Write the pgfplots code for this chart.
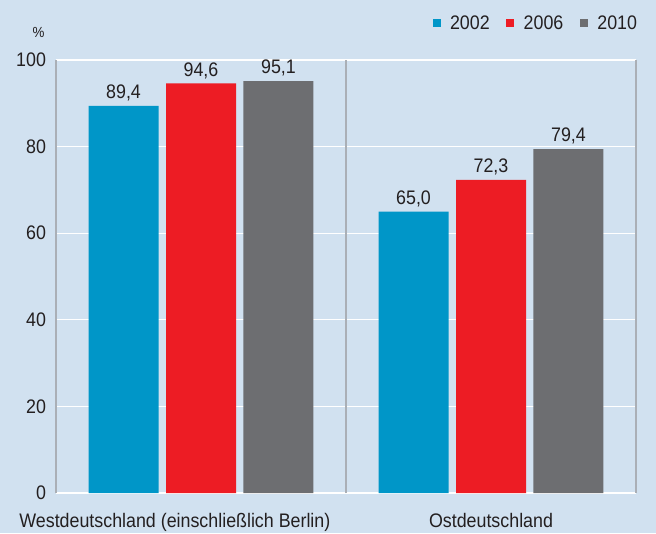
\documentclass[border=0pt]{standalone}
\usepackage{fontspec}
\setmainfont{Liberation Sans}[FakeStretch=0.91]
\usepackage{pgfplots}
\pgfplotsset{compat=1.18}
\usetikzlibrary{backgrounds}
\definecolor{bgc}{RGB}{209,225,240}
\definecolor{cblue}{RGB}{0,150,200}
\definecolor{cred}{RGB}{237,28,36}
\definecolor{cgray}{RGB}{109,110,113}
\definecolor{txt}{RGB}{35,31,32}
\definecolor{vline}{RGB}{170,175,182}
\begin{document}
\begin{tikzpicture}
\begin{axis}[name=ax,
  scale only axis, width=435pt, height=324.75pt,
  xmin=-0.5, xmax=1.5, ymin=0, ymax=100,
  ybar=5.6pt, bar width=52.5pt,
  axis line style={draw=none},
  major tick length=0pt,
  ytick={0,20,40,60,80,100},
  ymajorgrids, major grid style={white, line width=0.9pt},
  xtick={-0.09,1},
  xticklabels={Westdeutschland (einschließlich Berlin),Ostdeutschland},
  extra x ticks={-0.5,0.5,1.5},
  extra x tick labels={},
  extra x tick style={xmajorgrids=true, major grid style={vline, line width=1.1pt}},
  /pgf/number format/assume math mode=true,
  tick label style={font=\fontsize{14.7}{17}\selectfont, text=txt},
  yticklabel style={xshift=-4pt},
  xticklabel style={yshift=-11.5pt},
  nodes near coords,
  nodes near coords style={font=\fontsize{14.7}{17}\selectfont, text=txt,
    /pgf/number format/.cd, fixed, fixed zerofill, precision=1, use comma, assume math mode=true},
  clip=false,
  legend columns=3,
  legend style={at={(1,1)}, anchor=east, xshift=3pt, yshift=27.5pt, draw=none, fill=none,
    inner sep=0pt, font=\fontsize{14.7}{17}\selectfont, text=txt,
    /tikz/every odd column/.append style={column sep=5pt},
    /tikz/every even column/.append style={column sep=10.5pt}},
  legend image code/.code={\fill[#1] (0pt,-3pt) rectangle (6pt,3pt);},
]
\addplot[fill=cblue, draw=none] coordinates {(0,89.4) (1,65.0)};
\addplot[fill=cred, draw=none] coordinates {(0,94.6) (1,72.3)};
\addplot[fill=cgray, draw=none] coordinates {(0,95.1) (1,79.4)};
\legend{2002,2006,2010}
\node[font=\fontsize{11}{13}\selectfont, text=txt] at ([xshift=-13pt,yshift=21pt]rel axis cs:0,1) {\%};
\end{axis}
\begin{scope}[on background layer]
\fill[bgc] ([xshift=-42pt,yshift=-30pt]ax.south west) rectangle ([xshift=15pt,yshift=45pt]ax.north east);
\end{scope}
\pgfresetboundingbox
\path ([xshift=-42pt,yshift=-30pt]ax.south west) rectangle ([xshift=15pt,yshift=45pt]ax.north east);
\end{tikzpicture}
\end{document}
